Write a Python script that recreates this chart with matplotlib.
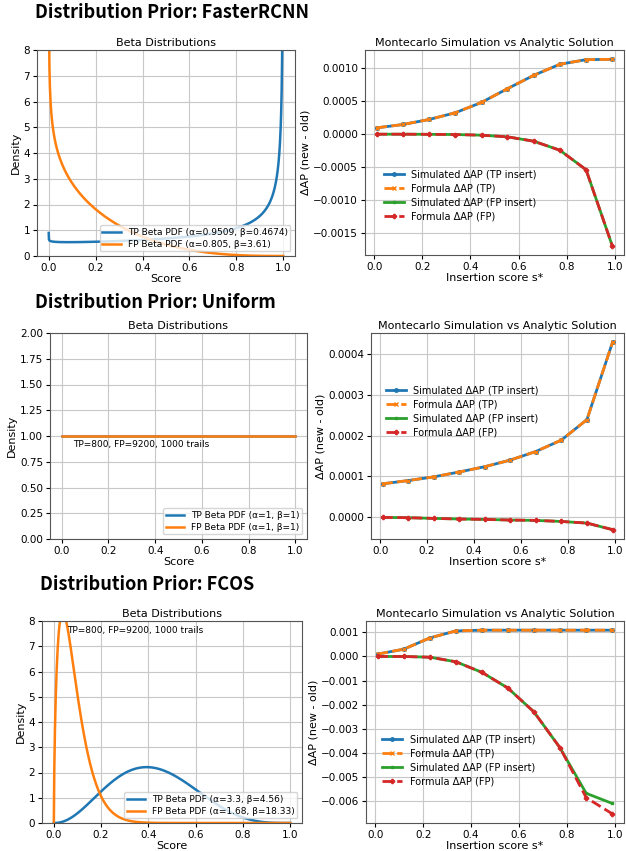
import math
import numpy as np
import matplotlib
matplotlib.use('Agg')
import matplotlib.pyplot as plt

# insertion scores used in every simulation
s_star = [0.01, 0.119, 0.228, 0.337, 0.446, 0.554, 0.663, 0.772, 0.881, 0.99]

priors = ['FasterRCNN', 'Uniform', 'FCOS']
tp_params = [(0.9509, 0.4674), (1, 1), (3.3, 4.56)]
fp_params = [(0.805, 3.61), (1, 1), (1.68, 18.33)]
density_max = [8, 2, 8]

# FasterRCNN
frcnn_sim_tp = [0.000096, 0.000147, 0.000223, 0.000325, 0.000482, 0.00069, 0.000892, 0.00106, 0.00113, 0.001135]
frcnn_form_tp = [0.000096, 0.000147, 0.000223, 0.000325, 0.000482, 0.00069, 0.000892, 0.00106, 0.00113, 0.001135]
frcnn_sim_fp = [0.0, 0.0, -0.000002, -0.000005, -0.000015, -0.00004, -0.000106, -0.000243, -0.000538, -0.00169]
frcnn_form_fp = [0.0, 0.0, -0.000002, -0.000005, -0.000015, -0.00004, -0.000106, -0.000243, -0.000538, -0.00169]

# Uniform
unif_sim_tp = [0.000082, 0.00009, 0.000099, 0.000111, 0.000124, 0.00014, 0.000161, 0.000189, 0.000239, 0.000428]
unif_form_tp = [0.000082, 0.00009, 0.000099, 0.000111, 0.000124, 0.00014, 0.000161, 0.000189, 0.000239, 0.000428]
unif_sim_fp = [0.0, -0.0000008, -0.0000025, -0.000004, -0.000005, -0.0000065, -0.0000074, -0.00001, -0.000014, -0.00003]
unif_form_fp = [0.0, -0.0000008, -0.0000025, -0.000004, -0.000005, -0.0000065, -0.0000074, -0.00001, -0.000014, -0.00003]

# FCOS
fcos_sim_tp = [0.0001, 0.000303, 0.000771, 0.00106, 0.00109, 0.00109, 0.00109, 0.00109, 0.00109, 0.00109]
fcos_form_tp = [0.0001, 0.000303, 0.000771, 0.00106, 0.00109, 0.00109, 0.00109, 0.00109, 0.00109, 0.00109]
fcos_sim_fp = [0.0, 0.0, -0.00003, -0.00022, -0.00066, -0.00131, -0.0023, -0.00379, -0.00567, -0.00609]
fcos_form_fp = [0.0, 0.0, -0.00003, -0.00022, -0.00066, -0.00131, -0.0023, -0.00379, -0.00585, -0.00652]

sims = [
    (frcnn_sim_tp, frcnn_form_tp, frcnn_sim_fp, frcnn_form_fp),
    (unif_sim_tp, unif_form_tp, unif_sim_fp, unif_form_fp),
    (fcos_sim_tp, fcos_form_tp, fcos_sim_fp, fcos_form_fp),
]

info_text = 'TP=800, FP=9200, 1000 trails'


def beta_pdf(x, a, b):
    lnB = math.lgamma(a) + math.lgamma(b) - math.lgamma(a + b)
    return np.exp((a - 1) * np.log(x) + (b - 1) * np.log(1 - x) - lnB)


W, H = 626, 851
fig = plt.figure(figsize=(W / 100, H / 100), dpi=100)

def px_axes(l, r, t, b):
    return fig.add_axes([l / W, (H - b) / H, (r - l) / W, (b - t) / H])

left_boxes = [(37, 295, 50, 256), (50, 307, 333, 539), (42, 302, 621, 823)]
right_boxes = [(365, 624, 50, 255), (371, 624, 333, 539), (366, 624, 621, 823)]
head_pos = [(35, 12), (35, 302), (40, 585)]
leg_anchor = [(0.04, 0.29), (0.025, 0.62), (0.03, 0.31)]
text_pos = [None, (0.05, 0.965), (0.055, 7.8)]

fs = 8
tfs = 7.5
x = np.linspace(1e-6, 1 - 1e-6, 1000)

for i in range(3):
    # heading
    fig.text(head_pos[i][0] / W, 1 - head_pos[i][1] / H, 'Distribution Prior: ' + priors[i],
             fontsize=13, fontweight='bold', family=['Noto Sans CJK JP', 'DejaVu Sans'],
             ha='left', va='center')

    ax1 = px_axes(*left_boxes[i])
    a, b = tp_params[i]
    ax1.plot(x, beta_pdf(x, a, b), lw=1.8, color='tab:blue',
             label='TP Beta PDF (α=%s, β=%s)' % (a, b))
    a, b = fp_params[i]
    ax1.plot(x, beta_pdf(x, a, b), lw=1.8, color='tab:orange',
             label='FP Beta PDF (α=%s, β=%s)' % (a, b))
    ax1.set_ylim(0, density_max[i])
    ax1.set_title('Beta Distributions', fontsize=fs, pad=3)
    ax1.set_xlabel('Score', fontsize=fs, labelpad=1)
    ax1.set_ylabel('Density', fontsize=fs, labelpad=2)
    ax1.tick_params(labelsize=tfs, length=3, pad=2)
    ax1.grid(True, color='#c8c8c8', lw=0.8)
    ax1.legend(loc='lower right', fontsize=6.5, borderpad=0.3, handlelength=2.0,
               labelspacing=0.3, fancybox=True, framealpha=0.8)
    if text_pos[i] is not None:
        ax1.text(text_pos[i][0], text_pos[i][1], info_text, fontsize=6.5,
                 ha='left', va='top')
    for sp in ax1.spines.values():
        sp.set_color('#555555')

    ax2 = px_axes(*right_boxes[i])
    sim_tp, form_tp, sim_fp, form_fp = sims[i]
    ax2.plot(s_star, sim_tp, '-', marker='o', ms=2.5, lw=2, color='tab:blue',
             label='Simulated ΔAP (TP insert)')
    ax2.plot(s_star, form_tp, '--', marker='x', ms=2.5, lw=2, color='tab:orange',
             label='Formula ΔAP (TP)')
    ax2.plot(s_star, sim_fp, '-', marker='s', ms=2, lw=2, color='tab:green',
             label='Simulated ΔAP (FP insert)')
    ax2.plot(s_star, form_fp, '--', marker='P', ms=3, lw=2, color='tab:red',
             label='Formula ΔAP (FP)')
    ax2.set_title('Montecarlo Simulation vs Analytic Solution', fontsize=fs, pad=3)
    ax2.set_xlabel('Insertion score s*', fontsize=fs, labelpad=1)
    ax2.set_ylabel('ΔAP (new - old)', fontsize=fs, labelpad=2)
    ax2.tick_params(labelsize=tfs, length=3, pad=2)
    ax2.grid(True, color='#c8c8c8', lw=0.8)
    ax2.legend(loc='center left', bbox_to_anchor=leg_anchor[i], fontsize=7,
               frameon=False, handlelength=2.0, labelspacing=0.4)
    for sp in ax2.spines.values():
        sp.set_color('#555555')

fig.savefig('out.png', dpi=100)
